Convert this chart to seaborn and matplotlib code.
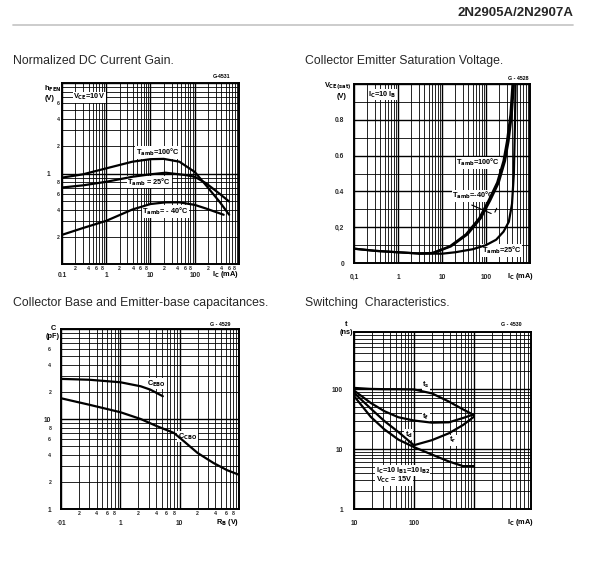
import matplotlib
matplotlib.use('Agg')
import matplotlib.pyplot as plt
import seaborn as sns

# ── Figure size (pixels) ─────────────────────
W, H = 597, 564

# ── Data: Normalized DC Current Gain ─────────
ic_gain_100 = [0.1, 0.3, 1, 3.9, 10, 20, 45, 100, 180, 360, 600]
hfe_100     = [0.90, 0.98, 1.14, 1.35, 1.44, 1.45, 1.35, 1.04, 0.74, 0.49, 0.35]
ic_gain_25  = [0.1, 0.3, 1, 3.9, 10, 22, 63, 100, 180, 360, 600]
hfe_25      = [0.70, 0.74, 0.81, 0.92, 0.98, 1.02, 0.96, 0.92, 0.78, 0.60, 0.49]
ic_gain_m40 = [0.1, 0.3, 1, 3.9, 10, 22, 45, 100, 180, 450]
hfe_m40     = [0.21, 0.25, 0.30, 0.40, 0.46, 0.48, 0.48, 0.45, 0.41, 0.35]

# ── Data: Collector Emitter Saturation Voltage ─
ic_sat_25  = [0.1, 0.3, 1, 3, 10, 20, 50, 100, 170, 250, 330, 390, 430, 455, 470]
vce_25     = [0.08, 0.068, 0.06, 0.053, 0.052, 0.06, 0.077, 0.10, 0.13, 0.175, 0.23, 0.33, 0.50, 0.78, 1.0]
ic_sat_100 = [0.1, 0.3, 1, 3, 6, 15, 35, 70, 115, 180, 250, 300, 360, 400]
vce_100    = [0.08, 0.068, 0.06, 0.053, 0.056, 0.093, 0.16, 0.25, 0.35, 0.45, 0.57, 0.68, 0.83, 1.0]
ic_sat_m40 = [3, 6.5, 16, 38, 76, 125, 195, 270, 325, 385, 430]
vce_m40    = [0.053, 0.056, 0.093, 0.16, 0.25, 0.35, 0.45, 0.57, 0.68, 0.83, 1.0]

# ── Data: Capacitances ───────────────────────
vr_ebo = [0.1, 0.3, 1, 2.2, 3.2, 5.2]
c_ebo  = [27.9, 27.3, 25.6, 23.1, 21.2, 17.9]
vr_cbo = [0.1, 0.3, 1, 2.2, 4, 8, 12, 20, 37, 63, 100]
c_cbo  = [17.0, 14.4, 11.9, 10.0, 8.4, 7.0, 5.6, 4.2, 3.25, 2.7, 2.4]

# ── Data: Switching Characteristics ──────────
ic_sw = [10, 19, 32, 55, 100, 200, 385, 660, 1000]
t_s   = [105, 101, 100, 100, 99, 85, 62, 46, 37]
t_f   = [95, 59, 43, 34, 30, 27.6, 28, 33, 38]
t_r   = [87, 47.5, 29.5, 19.3, 11.6, 14.1, 18.4, 25.2, 34.6]
t_d   = [77, 34.6, 21.4, 14.4, 10.8, 8.1, 6.2, 5.2, 5.2]

# ── Style ────────────────────────────────────
sns.set_style('white')
plt.rcParams['font.family'] = ['Liberation Sans', 'DejaVu Sans']
plt.rcParams['mathtext.default'] = 'bf'

TICK_FS = 4.8
MINOR_FS = 3.8
LBL = dict(fontsize=5.3, fontweight='bold', color='black')
SML = dict(fontsize=3.8, fontweight='bold', color='black')
WBOX = dict(facecolor='white', edgecolor='none', pad=0.4)


def fig_xy(x, y):
    return x / W, 1 - y / H


def add_panel(fig, left, top, right, bottom):
    l, t = fig_xy(left, top)
    r, b = fig_xy(right, bottom)
    return fig.add_axes([l, b, r - l, t - b])


def minor_pos(lo, hi):
    return [m * 10 ** e for e in range(lo, hi) for m in range(2, 10)]


def minor_lbl(lo, hi, keep=(2, 4, 6, 8)):
    return [str(m) if m in keep else '' for e in range(lo, hi) for m in range(2, 10)]


def datasheet_style(ax, xpad, ypad, xminpad=1.0, yminpad=None):
    if yminpad is None:
        yminpad = ypad
    ax.grid(which='major', color='black', lw=1.0)
    ax.grid(which='minor', color='black', lw=0.6)
    ax.set_axisbelow(True)
    ax.tick_params(which='both', length=0)
    ax.tick_params(axis='x', which='major', pad=xpad, labelsize=TICK_FS)
    ax.tick_params(axis='x', which='minor', pad=xminpad, labelsize=MINOR_FS)
    ax.tick_params(axis='y', which='major', pad=ypad, labelsize=TICK_FS)
    ax.tick_params(axis='y', which='minor', pad=yminpad, labelsize=MINOR_FS)
    for lab in ax.get_xticklabels(which='both') + ax.get_yticklabels(which='both'):
        lab.set_fontweight('bold')
    for s in ax.spines.values():
        s.set_linewidth(1.4)
        s.set_color('black')
    ax.set_xlabel('')
    ax.set_ylabel('')


def curve(ax, x, y):
    sns.lineplot(x=x, y=y, ax=ax, color='black', lw=1.6, sort=False,
                 estimator=None, zorder=3)


def label(ax, x, y, s):
    # label sits on white over the grid, curves stay drawn on top
    ax.text(x, y, s, va='center', zorder=2, bbox=WBOX, **LBL)


fig = plt.figure(figsize=(W / 100, H / 100), dpi=100)
fig.patch.set_facecolor('white')

# ── Header ───────────────────────────────────
fig.text(*fig_xy(573, 13), '2N2905A/2N2907A', ha='right', va='center',
         fontsize=9.5, fontweight='bold')
fig.add_artist(plt.Line2D([13 / W, 573 / W], [1 - 24.5 / H, 1 - 24.5 / H],
                          color='#c8c8c8', lw=1.3))
for x, y, t in [(13, 61, 'Normalized DC Current Gain.'),
                (305, 61, 'Collector Emitter Saturation Voltage.'),
                (13, 303, 'Collector Base and Emitter-base capacitances.'),
                (305, 303, 'Switching  Characteristics.')]:
    fig.text(*fig_xy(x, y), t, ha='left', va='center', fontsize=8.8)

# ── Panel 1: Normalized DC Current Gain ──────
ax1 = add_panel(fig, 62, 83, 239, 264)
ax1.set_xscale('log'); ax1.set_yscale('log')
curve(ax1, ic_gain_100, hfe_100)
curve(ax1, ic_gain_25, hfe_25)
curve(ax1, ic_gain_m40, hfe_m40)
ax1.set_xlim(0.1, 1000); ax1.set_ylim(0.1, 10)
ax1.set_xticks([0.1, 1, 10, 100, 1000], ['0.1', '1', '10', '100', ''])
ax1.set_xticks(minor_pos(-1, 3), minor_lbl(-1, 3), minor=True)
ax1.set_yticks([0.1, 1, 10], ['', '1', ''])
ax1.set_yticks(minor_pos(-1, 1), minor_lbl(-1, 0) + minor_lbl(0, 1, keep=(2, 4, 6)), minor=True)
datasheet_style(ax1, xpad=5.5, ypad=8.5, xminpad=1.2, yminpad=1.8)
label(ax1, 4.7, 1.70, r'T$_{amb}$=100°C')
label(ax1, 2.96, 0.80, r'T$_{amb}$ = 25°C')
label(ax1, 6.5, 0.38, r'T$_{amb}$= - 40°C')
label(ax1, 0.18, 6.95, r'V$_{CE}$=10V')
fig.text(*fig_xy(53, 89), r'h$_{FEN}$', ha='center', va='center', **LBL)
fig.text(*fig_xy(50, 99), '(V)', ha='center', va='center', **LBL)
fig.text(*fig_xy(230, 76), 'G-4531', ha='right', va='center', **SML)
fig.text(*fig_xy(225, 275), r'I$_C$ (mA)', ha='center', va='center', **LBL)

# ── Panel 2: Saturation Voltage ──────────────
ax2 = add_panel(fig, 354, 84, 530, 263)
ax2.set_xscale('log')
curve(ax2, ic_sat_25, vce_25)
curve(ax2, ic_sat_100, vce_100)
curve(ax2, ic_sat_m40, vce_m40)
ax2.set_xlim(0.1, 1000); ax2.set_ylim(0, 1.0)
ax2.set_xticks([0.1, 1, 10, 100, 1000], ['0,1', '1', '10', '100', ''])
ax2.set_xticks(minor_pos(-1, 3), [''] * 32, minor=True)
ax2.set_yticks([0, 0.2, 0.4, 0.6, 0.8, 1.0], ['0', '0,2', '0.4', '0.6', '0.8', ''])
ax2.set_yticks([0.1, 0.3, 0.5, 0.7, 0.9], minor=True)
datasheet_style(ax2, xpad=8, ypad=7)
label(ax2, 21, 0.56, r'T$_{amb}$=100°C')
label(ax2, 17, 0.375, r'T$_{amb}$=-40°C')
label(ax2, 80, 0.07, r'T$_{amb}$=25°C')
label(ax2, 0.21, 0.94, r'I$_C$=10 I$_B$')
ax2.annotate('', xy=(150, 0.27), xytext=(41.5, 0.33),
             arrowprops=dict(arrowstyle='-', lw=0.8, color='black'))
ax2.annotate('', xy=(150, 0.27), xytext=(186, 0.32),
             arrowprops=dict(arrowstyle='-', lw=0.8, color='black'))
fig.text(*fig_xy(338, 86), r'V$_{CE(sat)}$', ha='center', va='center', **LBL)
fig.text(*fig_xy(342, 96), '(V)', ha='center', va='center', **LBL)
fig.text(*fig_xy(528, 78), 'G - 4528', ha='right', va='center', **SML)
fig.text(*fig_xy(520, 277), r'I$_C$ (mA)', ha='center', va='center', **LBL)

# ── Panel 3: Capacitances ────────────────────
ax3 = add_panel(fig, 61, 329, 239, 509)
ax3.set_xscale('log'); ax3.set_yscale('log')
curve(ax3, vr_ebo, c_ebo)
curve(ax3, vr_cbo, c_cbo)
ax3.set_xlim(0.1, 100); ax3.set_ylim(1, 100)
ax3.set_xticks([0.1, 1, 10, 100], ['·01', '1', '10', ''])
ax3.set_xticks(minor_pos(-1, 2), minor_lbl(-1, 2), minor=True)
ax3.set_yticks([1, 10, 100], ['1', '10', ''])
ax3.set_yticks(minor_pos(0, 2), minor_lbl(0, 1) + minor_lbl(1, 2, keep=(2, 4, 6)), minor=True)
datasheet_style(ax3, xpad=8, ypad=7, xminpad=1.5, yminpad=7)
label(ax3, 2.84, 24.8, r'C$_{EBO}$')
label(ax3, 9.4, 6.4, r'C$_{CBO}$')
fig.text(*fig_xy(53, 329), 'C', ha='center', va='center', **LBL)
fig.text(*fig_xy(53, 337), '(pF)', ha='center', va='center', **LBL)
fig.text(*fig_xy(230, 325), 'G - 4529', ha='right', va='center', **SML)
fig.text(*fig_xy(228, 522), r'R$_B$ (V)', ha='center', va='center', **LBL)

# ── Panel 4: Switching Characteristics ───────
ax4 = add_panel(fig, 354, 332, 531, 509)
ax4.set_xscale('log'); ax4.set_yscale('log')
for ts in (t_s, t_f, t_r, t_d):
    curve(ax4, ic_sw, ts)
ax4.set_xlim(10, 3100); ax4.set_ylim(1, 290)
ax4.set_xticks([10, 100, 1000], ['10', '100', ''])
ax4.set_xticks(minor_pos(1, 4), [''] * 24, minor=True)
ax4.set_yticks([1, 10, 100], ['1', '10', '100'])
ax4.set_yticks(minor_pos(0, 3), [''] * 24, minor=True)
datasheet_style(ax4, xpad=8, ypad=8)
label(ax4, 138, 117, r't$_s$')
label(ax4, 138, 35, r't$_f$')
label(ax4, 70, 17.5, r't$_d$')
label(ax4, 390, 14.0, r't$_r$')
label(ax4, 23, 4.4, r'I$_C$=10 I$_{B1}$=10I$_{B2}$')
label(ax4, 23, 3.06, r'V$_{CC}$ = 15V')
fig.text(*fig_xy(346, 325), 't', ha='center', va='center', **LBL)
fig.text(*fig_xy(346, 332), '(ns)', ha='center', va='center', **LBL)
fig.text(*fig_xy(522, 325), 'G - 4530', ha='right', va='center', **SML)
fig.text(*fig_xy(520, 522), r'I$_C$ (mA)', ha='center', va='center', **LBL)

fig.savefig('out.png', dpi=100, facecolor='white')
plt.close(fig)
